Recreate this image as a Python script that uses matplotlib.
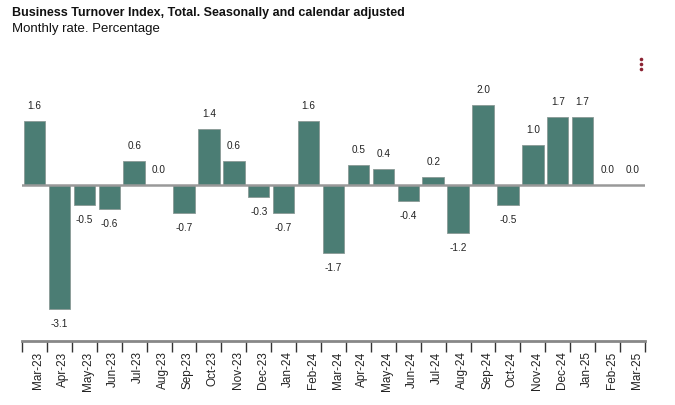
import numpy as np
import matplotlib.pyplot as plt
from matplotlib.transforms import ScaledTranslation

months = ["Mar-23", "Apr-23", "May-23", "Jun-23", "Jul-23", "Aug-23", "Sep-23",
          "Oct-23", "Nov-23", "Dec-23", "Jan-24", "Feb-24", "Mar-24", "Apr-24",
          "May-24", "Jun-24", "Jul-24", "Aug-24", "Sep-24", "Oct-24", "Nov-24",
          "Dec-24", "Jan-25", "Feb-25", "Mar-25"]
rates = [1.6, -3.1, -0.5, -0.6, 0.6, 0.0, -0.7, 1.4, 0.6, -0.3, -0.7, 1.6, -1.7,
         0.5, 0.4, -0.4, 0.2, -1.2, 2.0, -0.5, 1.0, 1.7, 1.7, 0.0, 0.0]

plt.rcParams['font.family'] = ['Liberation Sans', 'DejaVu Sans']

fig = plt.figure(figsize=(6.75, 4.05), dpi=100)
ax = fig.add_axes([22/675, 1 - 341/405, 623/675, 281/405])

x = np.arange(len(months))
ax.bar(x, rates, width=0.86, color='#4b7d74', edgecolor='#8a9a96', linewidth=0.6, zorder=2)
ax.axhline(0, color='#999999', linewidth=1.8, zorder=3)

for xi, v in zip(x, rates):
    off = 11 if v >= 0 else -11
    ax.annotate(f"{v:.1f}", (xi, v), xytext=(0, off), textcoords='offset points',
                ha='center', va='center', fontsize=7.2, color='#222222')

ax.set_xlim(-0.5, len(months) - 0.5)
ax.set_ylim(-3.9, 3.125)

for s in ['top', 'right', 'left']:
    ax.spines[s].set_visible(False)
ax.spines['bottom'].set_color('#888888')
ax.spines['bottom'].set_linewidth(2)
ax.set_yticks([])

# ticks between months, labels at bar centres (nudged right a little)
ax.set_xticks(np.arange(-0.5, len(months), 1.0))
ax.set_xticklabels([])
ax.tick_params(axis='x', which='major', length=8, width=1, color='#333333')
ax.set_xticks(x, minor=True)
ax.set_xticklabels(months, minor=True, rotation=90, fontsize=8.5, color='#222222')
ax.tick_params(axis='x', which='minor', length=0, pad=7.5)
shift = ScaledTranslation(4/100, 0, fig.dpi_scale_trans)
for lab in ax.get_xticklabels(minor=True):
    lab.set_transform(lab.get_transform() + shift)

fig.text(12/675, 1 - 13/405, "Business Turnover Index, Total. Seasonally and calendar adjusted",
         fontsize=9.0, fontweight='bold', va='center', ha='left', color='#111111')
fig.text(12/675, 1 - 29/405, "Monthly rate. Percentage",
         fontsize=9.5, va='center', ha='left', color='#111111')

# menu icon
ax.plot([641/675] * 3, [1 - 59/405, 1 - 64/405, 1 - 69/405], 'o', color='#8b2232',
        markersize=2.6, markeredgewidth=0, transform=fig.transFigure, clip_on=False)

fig.savefig("out.png", dpi=100)
